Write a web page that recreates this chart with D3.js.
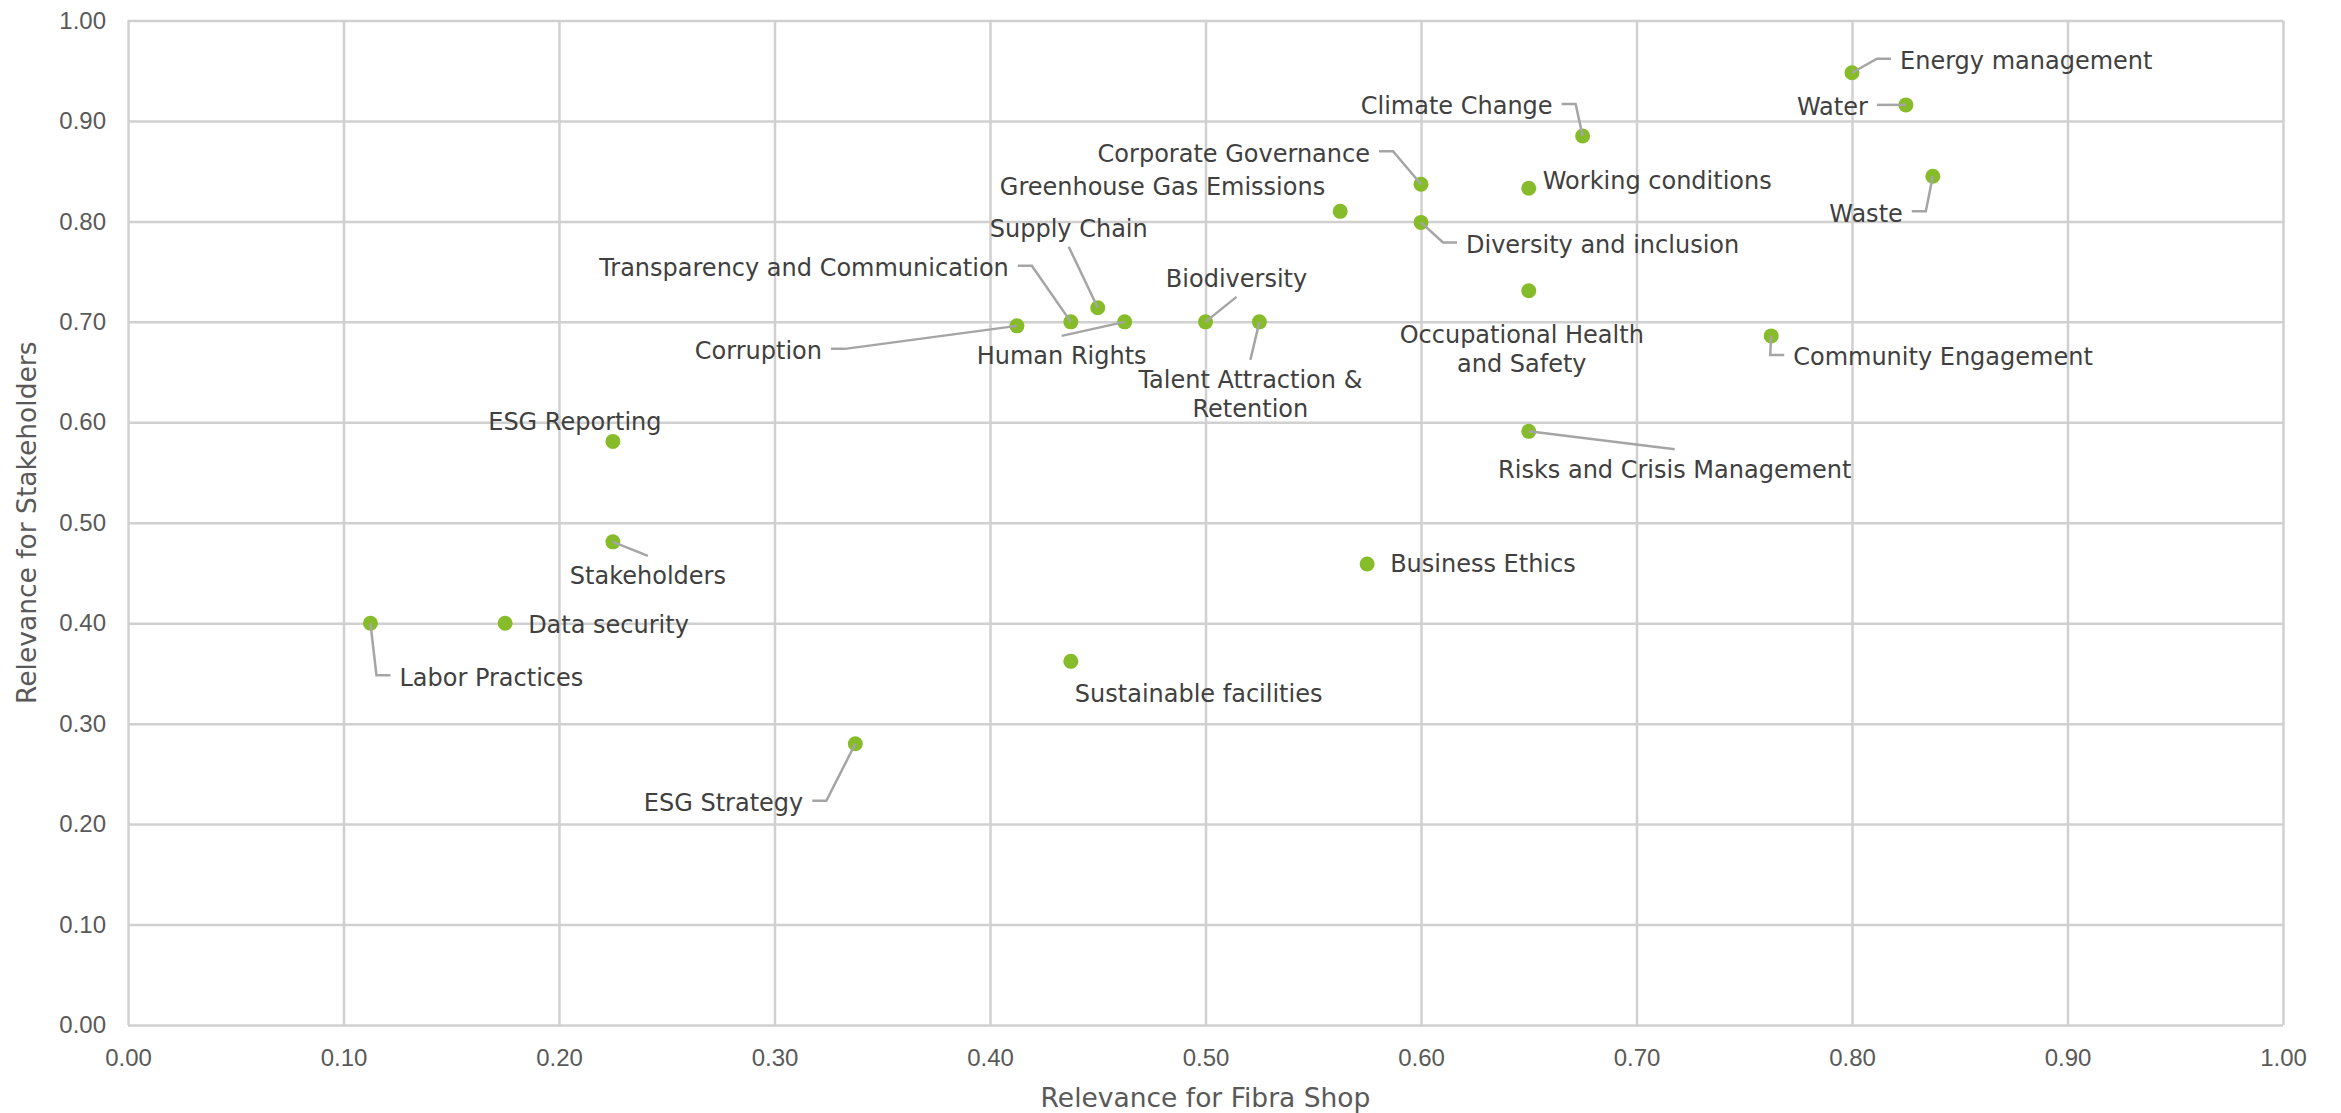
<!DOCTYPE html>
<html>
<head>
<meta charset="utf-8">
<script src="https://cdn.jsdelivr.net/npm/d3@7"></script>
<style>
    body { margin: 0; background: #fff; }
    svg { font-family: "DejaVu Sans", Verdana, sans-serif; }
    .grid line { stroke: #d0d0d0; stroke-width: 2.5; }
    .grid path { display: none; }
    .grid text { fill: #595959; font-size: 24px; }
    .axis-title { fill: #595959; font-size: 26.5px; }
    .label { fill: #404040; font-size: 24px; }
    .leader { fill: none; stroke: #a5a5a5; stroke-width: 2.5; }
</style>
</head>
<body>
<div id="chart"></div>
<script>
// material topics ("\n" = line break in the data label)
var topics = [
    "Energy management", "Water", "Climate Change", "Corporate Governance",
    "Greenhouse Gas Emissions", "Working conditions", "Waste", "Diversity and inclusion",
    "Supply Chain", "Transparency and Communication", "Corruption", "Human Rights",
    "Biodiversity", "Talent Attraction &\nRetention", "Occupational Health\nand Safety",
    "Community Engagement", "ESG Reporting", "Risks and Crisis Management",
    "Stakeholders", "Business Ethics", "Data security", "Labor Practices",
    "Sustainable facilities", "ESG Strategy"
];
// x: relevance for Fibra Shop
var fibraShop = [
    0.800, 0.825, 0.675, 0.600, 0.5625, 0.650, 0.8375, 0.600,
    0.450, 0.4375, 0.4125, 0.4625, 0.500, 0.525, 0.650, 0.7625,
    0.225, 0.650, 0.225, 0.575, 0.175, 0.1125, 0.4375, 0.3375
];
// y: relevance for stakeholders
var stakeholders = [
    0.948, 0.916, 0.885, 0.837, 0.810, 0.833, 0.845, 0.799,
    0.714, 0.700, 0.696, 0.700, 0.700, 0.700, 0.731, 0.686,
    0.581, 0.591, 0.481, 0.459, 0.400, 0.400, 0.362, 0.280
];
var xTicks = [0, 0.1, 0.2, 0.3, 0.4, 0.5, 0.6, 0.7, 0.8, 0.9, 1.0];
var yTicks = [0, 0.1, 0.2, 0.3, 0.4, 0.5, 0.6, 0.7, 0.8, 0.9, 1.0];

// where each data label sits relative to its point (px), and how its leader line attaches
var labelLayout = [
    { dx: 48, dy: -12, anchor: "start", leader: "side" },
    { dx: -38, dy: 2, anchor: "end", leader: "side" },
    { dx: -30, dy: -30, anchor: "end", leader: "side" },
    { dx: -51, dy: -31, anchor: "end", leader: "side" },
    { dx: -15, dy: -25, anchor: "end", leader: null },
    { dx: 14, dy: -8, anchor: "start", leader: null },
    { dx: -30, dy: 37, anchor: "end", leader: "side" },
    { dx: 45, dy: 22, anchor: "start", leader: "side" },
    { dx: -29, dy: -79, anchor: "middle", leader: "bottom" },
    { dx: -62, dy: -54, anchor: "end", leader: "side" },
    { dx: -195, dy: 25, anchor: "end", leader: "side" },
    { dx: -63, dy: 34, anchor: "middle", leader: "top" },
    { dx: 31, dy: -43, anchor: "middle", leader: "bottom" },
    { dx: -9, dy: 58, anchor: "middle", leader: "top" },
    { dx: -7, dy: 44, anchor: "middle", leader: null },
    { dx: 22, dy: 21, anchor: "start", leader: "side" },
    { dx: -38, dy: -20, anchor: "middle", leader: null },
    { dx: 146, dy: 38, anchor: "middle", leader: "top" },
    { dx: 35, dy: 34, anchor: "middle", leader: "top" },
    { dx: 23, dy: 0, anchor: "start", leader: null },
    { dx: 23, dy: 1, anchor: "start", leader: null },
    { dx: 29, dy: 54, anchor: "start", leader: "side" },
    { dx: 4, dy: 32, anchor: "start", leader: null },
    { dx: -52, dy: 59, anchor: "end", leader: "side" }
];

function init() {
    var w = 2341;
    var h = 1113;
    var margin = { top: 20.5, right: 58, bottom: 88, left: 128 };
    var lineH = 29;

    var svg = d3.select("#chart")
        .append("svg")
        .attr("width", w)
        .attr("height", h);

    var xScale = d3.scaleLinear().domain([0, 1]).range([margin.left, w - margin.right]);
    var yScale = d3.scaleLinear().domain([0, 1]).range([h - margin.bottom, margin.top]);
    var fmt = d3.format(".2f");

    // gridlines + tick labels
    svg.append("g")
        .attr("class", "grid")
        .attr("transform", `translate(0,${yScale(0)})`)
        .call(d3.axisBottom(xScale).tickValues(xTicks).tickFormat(fmt)
            .tickSize(-(yScale(0) - yScale(1))).tickPadding(24));

    svg.append("g")
        .attr("class", "grid")
        .attr("transform", `translate(${xScale(0)},0)`)
        .call(d3.axisLeft(yScale).tickValues(yTicks).tickFormat(fmt)
            .tickSize(-(xScale(1) - xScale(0))).tickPadding(22));

    // axis titles
    svg.append("text")
        .attr("class", "axis-title")
        .attr("x", (xScale(0) + xScale(1)) / 2)
        .attr("y", 1098)
        .attr("dy", "0.35em")
        .attr("text-anchor", "middle")
        .text("Relevance for Fibra Shop");

    svg.append("text")
        .attr("class", "axis-title")
        .attr("transform", `translate(27,${(yScale(0) + yScale(1)) / 2}) rotate(-90)`)
        .attr("dy", "0.35em")
        .attr("text-anchor", "middle")
        .text("Relevance for Stakeholders");

    var dataset = topics.map(function (t, i) {
        return { name: t, x: fibraShop[i], y: stakeholders[i], lay: labelLayout[i] };
    });

    // points
    svg.append("g")
        .selectAll("circle")
        .data(dataset)
        .enter()
        .append("circle")
        .attr("cx", function (d) { return xScale(d.x); })
        .attr("cy", function (d) { return yScale(d.y); })
        .attr("r", 7.5)
        .style("fill", "#86bc2a");

    // leader lines
    var leaders = svg.append("g");
    dataset.forEach(function (d) {
        var L = d.lay;
        if (!L.leader) return;
        var px = xScale(d.x), py = yScale(d.y);
        var lx = px + L.dx, ly = py + L.dy;
        var nLines = d.name.split("\n").length;
        var path = d3.path();
        path.moveTo(px, py);
        if (L.leader === "side") {
            var sign = L.anchor === "start" ? -1 : 1;
            var tailEnd = lx + sign * 9;
            var tailStart = tailEnd + sign * 14;
            path.lineTo(tailStart, ly - 2);
            path.lineTo(tailEnd, ly - 2);
        } else if (L.leader === "top") {
            path.lineTo(lx, ly - 20);
        } else {
            path.lineTo(lx, ly + 18 + (nLines - 1) * lineH);
        }
        leaders.append("path")
            .attr("class", "leader")
            .attr("d", path.toString());
    });

    // data labels
    var labels = svg.append("g")
        .selectAll("text")
        .data(dataset)
        .enter()
        .append("text")
        .attr("class", "label")
        .attr("text-anchor", function (d) { return d.lay.anchor; });

    labels.each(function (d) {
        var px = xScale(d.x) + d.lay.dx;
        var py = yScale(d.y) + d.lay.dy;
        d3.select(this).selectAll("tspan")
            .data(d.name.split("\n"))
            .enter()
            .append("tspan")
            .attr("x", px)
            .attr("y", function (s, k) { return py + k * lineH; })
            .attr("dy", "0.35em")
            .text(function (s) { return s; });
    });
}

window.onload = init;
</script>
</body>
</html>
